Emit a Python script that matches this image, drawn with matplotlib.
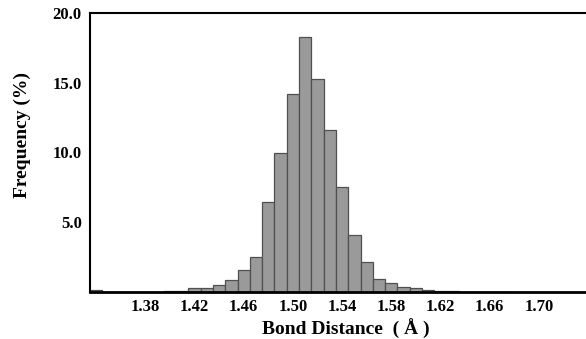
import matplotlib
matplotlib.use("Agg")
import matplotlib.pyplot as plt
import numpy as np

# bin centres (Å) and frequencies (%)
bin_centers = [1.34, 1.35, 1.36, 1.37, 1.38, 1.39, 1.40, 1.41, 1.42, 1.43,
               1.44, 1.45, 1.46, 1.47, 1.48, 1.49, 1.50, 1.51, 1.52, 1.53,
               1.54, 1.55, 1.56, 1.57, 1.58, 1.59, 1.60, 1.61, 1.62, 1.63,
               1.64, 1.65, 1.66, 1.67]
frequency = [0.14, 0.01, 0.02, 0.03, 0.03, 0.03, 0.04, 0.05, 0.29, 0.29,
             0.50, 0.86, 1.60, 2.50, 6.48, 10.0, 14.2, 18.3, 15.3, 11.6,
             7.50, 4.06, 2.13, 0.93, 0.67, 0.38, 0.26, 0.14, 0.06, 0.04,
             0.03, 0.02, 0.02, 0.01]
xtick_values = [1.38, 1.42, 1.46, 1.50, 1.54, 1.58, 1.62, 1.66, 1.70]
ytick_values = [5.0, 10.0, 15.0, 20.0]
bin_width = 0.01

plt.rcParams['font.family'] = ['Liberation Serif', 'DejaVu Serif']

fig = plt.figure(figsize=(5.86, 3.39), dpi=100)
ax = fig.add_axes([90/586, 47/339, 1 - 90/586, (292-13)/339])

ax.bar(bin_centers, frequency, width=bin_width, color='#9a9a9a',
       edgecolor='#505050', linewidth=0.9, align='center')

ax.set_xlim(1.335, 1.7383)
ax.set_ylim(0, 20)

ax.set_xticks(xtick_values)
ax.set_xticklabels([f"{v:.2f}" for v in xtick_values], fontweight='bold', fontsize=12)
ax.set_yticks(ytick_values)
ax.set_yticklabels([f"{v:.1f}" for v in ytick_values], fontweight='bold', fontsize=12)
ax.tick_params(axis='x', length=0, pad=5)
ax.tick_params(axis='y', length=0, pad=6)
ax.set_yticks([20.0], minor=True)
ax.tick_params(axis='y', which='minor', length=6, width=1.0, color='black')

ax.spines['right'].set_visible(False)
ax.spines['top'].set_linewidth(1.5)
ax.spines['left'].set_linewidth(1.5)
ax.spines['bottom'].set_linewidth(2.0)

fig.text(346/586, 1 - 329/339, "Bond Distance  ( Å )", ha='center', va='center',
         fontsize=14, fontweight='bold')
fig.text(22/586, 1 - 135/339, "Frequency (%)", ha='center', va='center',
         rotation=90, fontsize=14, fontweight='bold')

fig.savefig("out.png", dpi=100)
